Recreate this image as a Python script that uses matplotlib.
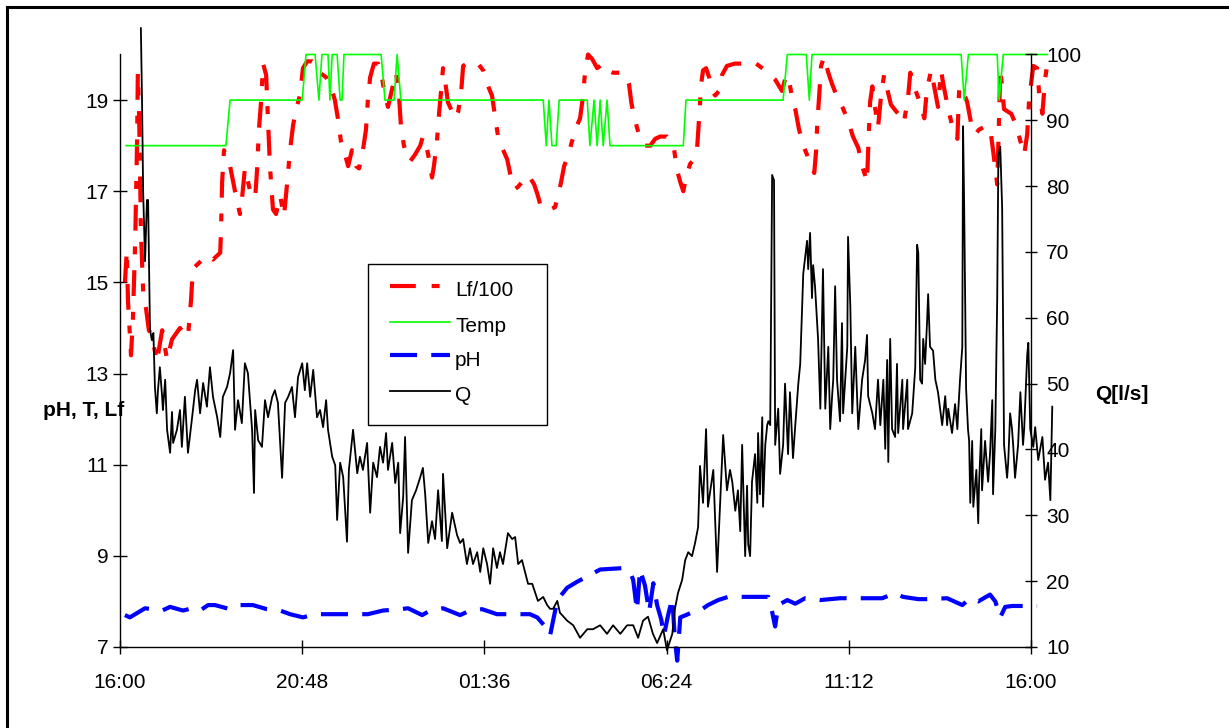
import matplotlib
matplotlib.use("Agg")
import matplotlib.pyplot as plt
from matplotlib.lines import Line2D
from matplotlib.patches import Rectangle

plt.rcParams['font.family'] = ['Liberation Sans', 'DejaVu Sans']

# ---- data (hours after 16:00) ----
x_tick_pos = [0, 4.8, 9.6, 14.4, 19.2, 24]
x_tick_labels = ['16:00', '20:48', '01:36', '06:24', '11:12', '16:00']
left_ticks = [7, 9, 11, 13, 15, 17, 19]
right_ticks = [10, 20, 30, 40, 50, 60, 70, 80, 90, 100]
legend_labels = ['Lf/100', 'Temp', 'pH', 'Q']

t_temp = [0.16, 2.79, 2.90, 4.80, 4.90, 5.14, 5.24, 5.32, 5.48, 5.53, 5.59, 5.72, 5.80, 5.85, 5.90,
          6.88, 6.98, 7.22, 7.30, 7.40, 11.15, 11.23, 11.30, 11.38, 11.49, 11.57, 12.31, 12.38,
          12.49, 12.57, 12.65, 12.73, 12.83, 12.91, 14.84, 14.91, 17.47, 17.58, 18.08, 18.16,
          18.23, 22.16, 22.24, 22.35, 23.11, 23.16, 23.27, 24.43]
temp = [18, 18, 19, 19, 20, 20, 19, 20, 20, 19, 20, 20, 19, 19, 20,
        20, 19, 19, 20, 19, 19, 18, 19, 18, 18, 19, 19, 18,
        19, 18, 19, 18, 19, 18, 18, 19, 19, 20, 20, 19,
        20, 20, 19, 20, 20, 19, 20, 20]

t_lf = [0.13, 0.18, 0.21, 0.29, 0.34, 0.40, 0.42, 0.45, 0.47, 0.50, 0.53, 0.55, 0.61, 0.69, 0.76,
        0.84, 0.97, 1.11, 1.24, 1.37, 1.58, 1.71, 1.79, 1.87, 1.92, 2.11, 2.29, 2.45, 2.64, 2.66,
        2.69, 2.74, 2.90, 3.03, 3.16, 3.21, 3.29, 3.43, 3.56, 3.61, 3.66, 3.72, 3.77, 3.85, 3.90,
        3.95, 4.03, 4.11, 4.22, 4.32, 4.40, 4.48, 4.56, 4.64, 4.74, 4.82, 4.93, 5.06, 5.16, 5.27,
        5.43, 5.56, 5.66, 5.74, 5.82, 5.93, 6.01, 6.11, 6.22, 6.30, 6.40, 6.48, 6.53, 6.59, 6.69,
        6.80, 6.88, 6.98, 7.06, 7.17, 7.27, 7.35, 7.40, 7.48, 7.56, 7.64, 7.77, 7.91, 7.98, 8.04,
        8.12, 8.22, 8.27, 8.35, 8.41, 8.46, 8.51, 8.56, 8.64, 8.75, 8.83, 8.91, 8.99, 9.04, 9.22,
        9.43, 9.57, 9.70, 9.80, 9.88, 9.96, 10.07, 10.20, 10.30, 10.41, 10.49, 10.59, 10.70, 10.80,
        10.91, 11.01, 11.09, 11.20, 11.33, 11.46, 11.54, 11.62, 11.70, 11.81, 11.91, 12.02, 12.12,
        12.20, 12.25, 12.33, 12.44, 12.57, 12.73, 12.86, 12.99, 13.18, 13.33, 13.41, 13.47, 13.54,
        13.62, 13.70, 13.83, 13.97, 14.10, 14.23, 14.41, 14.52, 14.60, 14.68, 14.76, 14.84, 14.91,
        15.02, 15.12, 15.20, 15.26, 15.31, 15.36, 15.44, 15.52, 15.60, 15.68, 15.78, 15.86, 15.99,
        16.20, 16.39, 16.60, 16.76, 16.92, 17.08, 17.26, 17.44, 17.55, 17.63, 17.71, 17.79, 17.89,
        18.00, 18.10, 18.21, 18.29, 18.34, 18.37, 18.42, 18.47, 18.55, 18.66, 18.76, 18.90, 19.03,
        19.18, 19.31, 19.45, 19.55, 19.63, 19.68, 19.71, 19.76, 19.82, 19.87, 19.97, 20.05, 20.13,
        20.21, 20.31, 20.45, 20.55, 20.65, 20.76, 20.82, 20.92, 21.05, 21.19, 21.26, 21.37, 21.47,
        21.55, 21.63, 21.69, 21.82, 21.92, 22.06, 22.11, 22.21, 22.32, 22.42, 22.53, 22.63, 22.74,
        22.92, 23.00, 23.06, 23.11, 23.16, 23.19, 23.29, 23.48, 23.61, 23.72, 23.82, 23.90, 23.95,
        24.06, 24.16, 24.22, 24.30, 24.37, 24.43]
lf = [15.0, 15.7, 14.6, 13.4, 14.2, 15.9, 16.8, 18.1, 19.6, 18.8, 17.35, 16.15, 14.8, 14.4, 13.95,
      13.85, 13.25, 13.95, 13.3, 13.75, 14.0, 13.85, 13.8, 14.6, 15.3, 15.45, 15.6, 15.5, 15.65, 16.1,
      17.2, 17.9, 17.55, 17.0, 16.5, 16.8, 17.5, 17.0, 16.85, 17.45, 18.35, 19.0, 19.8, 19.55, 18.55,
      17.55, 16.6, 16.5, 16.9, 16.45, 17.15, 17.9, 18.45, 18.8, 19.1, 19.7, 19.85, 19.85, 19.8, 19.6,
      19.5, 19.3, 19.0, 18.6, 18.1, 17.8, 17.55, 17.9, 17.55, 17.5, 17.9, 18.35, 19.0, 19.5, 19.8,
      19.8, 19.6, 19.1, 18.85, 19.25, 19.6, 19.1, 18.45, 18.0, 17.8, 17.65, 17.8, 18.0, 18.2, 18.1,
      17.8, 17.3, 17.55, 18.1, 18.75, 19.2, 19.7, 19.45, 18.95, 18.75, 18.6, 18.75, 19.2, 19.75, 19.85,
      19.8, 19.65, 19.3, 19.1, 18.65, 18.2, 17.95, 17.7, 17.3, 17.05, 17.1, 17.2, 17.35, 17.3,
      17.15, 16.9, 16.65, 16.6, 16.6, 16.65, 16.9, 17.2, 17.55, 17.8, 18.1, 18.4, 18.6,
      19.1, 19.6, 20.0, 19.9, 19.7, 19.8, 19.65, 19.6, 19.6, 19.55, 19.35, 18.95, 18.65,
      18.4, 18.15, 18.0, 18.0, 18.15, 18.2, 18.2, 18.1, 17.9, 17.45, 17.2, 17.0, 17.3,
      17.6, 17.7, 17.9, 18.65, 19.35, 19.65, 19.7, 19.5, 19.2, 19.1, 19.2, 19.55, 19.75,
      19.8, 19.8, 19.85, 19.8, 19.7, 19.6, 19.45, 19.2, 19.55, 19.4, 19.05, 18.8, 18.35,
      18.0, 17.8, 17.55, 17.4, 17.9, 18.5, 19.1, 19.75, 19.95, 19.6, 19.35, 19.05, 18.85,
      18.55, 18.2, 17.95, 17.55, 17.35, 17.2, 17.9, 18.95, 19.3, 18.95, 18.4, 19.1, 19.55,
      19.25, 18.9, 18.75, 18.65, 18.5, 19.05, 19.6, 19.3, 19.0, 18.6, 19.25, 19.65, 19.2,
      18.85, 19.65, 19.35, 18.8, 18.45, 18.15, 19.3, 19.2, 18.95, 18.5, 18.25, 18.35, 18.4,
      18.4, 17.9, 17.5, 17.15, 18.65, 19.7, 18.8, 18.7, 18.45, 18.1, 17.8, 18.25, 19.0,
      19.75, 19.7, 19.1, 18.7, 19.45, 19.8]

t_ph = [0.13, 0.26, 0.40, 0.66, 1.11, 1.32, 1.66, 1.90, 2.11, 2.32, 2.50, 2.90, 3.16, 3.50, 3.87,
        4.22, 4.48, 4.82, 5.14, 5.48, 5.93, 6.53, 6.93, 7.38, 7.59, 7.96, 8.17, 8.51, 8.96, 9.22,
        9.54, 9.93, 10.54, 10.80, 10.99, 11.20, 11.33, 11.52, 11.78, 12.04, 12.31, 12.65, 13.23,
        13.44, 13.52, 13.62, 13.70, 13.83, 13.94, 14.05, 14.15, 14.26, 14.33, 14.44, 14.55, 14.62,
        14.68, 14.76, 14.91, 15.10, 15.28, 15.49, 15.76, 16.02, 16.47, 17.08, 17.18, 17.26, 17.34,
        17.58, 17.79, 18.05, 18.45, 18.97, 19.37, 20.08, 20.42, 20.63, 21.03, 21.26, 21.79, 22.19,
        22.40, 22.61, 22.92, 23.06, 23.19, 23.32, 23.50, 24.16]
ph = [7.7, 7.65, 7.72, 7.85, 7.8, 7.88, 7.8, 7.85, 7.8, 7.92, 7.92, 7.83, 7.92, 7.92, 7.83,
      7.8, 7.72, 7.65, 7.72, 7.72, 7.72, 7.72, 7.8, 7.83, 7.85, 7.7, 7.8, 7.85, 7.7, 7.8,
      7.83, 7.72, 7.72, 7.72, 7.65, 7.45, 7.25, 8.03, 8.3, 8.43, 8.55, 8.7, 8.73,
      8.65, 8.47, 7.8, 8.7, 8.35, 7.77, 8.4, 7.92, 7.6, 7.25, 7.7, 8.07, 7.15,
      6.7, 7.65, 7.7, 7.77, 7.8, 7.92, 8.03, 8.1, 8.1, 8.1, 7.77, 7.45, 7.92,
      8.03, 7.95, 8.07, 8.03, 8.07, 8.07, 8.07, 8.18, 8.1, 8.05, 8.05, 8.07, 7.92,
      8.07, 8.0, 8.15, 8.0, 7.65, 7.88, 7.9, 7.9]

t_q = [0.55, 0.58, 0.61, 0.66, 0.71, 0.74, 0.76, 0.79, 0.84, 0.88, 0.92, 0.97, 1.00, 1.05, 1.11,
       1.13, 1.19, 1.24, 1.32, 1.37, 1.40, 1.50, 1.58, 1.63, 1.71, 1.79, 1.90, 1.98, 2.03, 2.11,
       2.19, 2.29, 2.37, 2.45, 2.56, 2.64, 2.71, 2.82, 2.90, 2.98, 3.03, 3.11, 3.21, 3.29, 3.37,
       3.48, 3.53, 3.56, 3.64, 3.74, 3.82, 3.90, 4.01, 4.08, 4.16, 4.27, 4.35, 4.43, 4.53, 4.61,
       4.69, 4.80, 4.87, 4.93, 5.01, 5.09, 5.19, 5.27, 5.35, 5.43, 5.48, 5.59, 5.67, 5.72, 5.80,
       5.88, 5.98, 6.03, 6.14, 6.25, 6.32, 6.40, 6.51, 6.59, 6.67, 6.77, 6.85, 6.93, 7.01, 7.06,
       7.17, 7.25, 7.33, 7.38, 7.46, 7.51, 7.59, 7.69, 7.80, 7.91, 7.98, 8.04, 8.12, 8.22, 8.30,
       8.38, 8.48, 8.51, 8.62, 8.75, 8.88, 8.96, 9.04, 9.14, 9.22, 9.30, 9.41, 9.49, 9.57, 9.67,
       9.75, 9.83, 9.93, 10.01, 10.09, 10.22, 10.33, 10.41, 10.49, 10.59, 10.67, 10.75, 10.86,
       10.94, 11.01, 11.15, 11.25, 11.33, 11.41, 11.52, 11.59, 11.78, 11.94, 12.12, 12.31, 12.46,
       12.65, 12.83, 12.99, 13.18, 13.36, 13.52, 13.65, 13.78, 13.91, 14.04, 14.15, 14.31, 14.41,
       14.55, 14.62, 14.70, 14.81, 14.89, 14.97, 15.07, 15.15, 15.23, 15.28, 15.36, 15.44, 15.49,
       15.63, 15.73, 15.81, 15.89, 15.99, 16.07, 16.13, 16.21, 16.28, 16.34, 16.39, 16.47, 16.52,
       16.55, 16.60, 16.65, 16.73, 16.79, 16.81, 16.86, 16.92, 16.94, 17.00, 17.05, 17.08, 17.13,
       17.18, 17.23, 17.26, 17.34, 17.39, 17.47, 17.52, 17.60, 17.65, 17.73, 17.79, 17.87, 17.92,
       18.00, 18.10, 18.13, 18.18, 18.23, 18.26, 18.31, 18.39, 18.45, 18.52, 18.58, 18.66, 18.71,
       18.76, 18.79, 18.84, 18.89, 18.97, 19.02, 19.05, 19.16, 19.18, 19.24, 19.29, 19.37, 19.45,
       19.55, 19.63, 19.68, 19.71, 19.82, 19.89, 19.97, 20.03, 20.11, 20.16, 20.21, 20.24, 20.29,
       20.34, 20.42, 20.47, 20.50, 20.61, 20.63, 20.74, 20.76, 20.87, 20.95, 21.00, 21.03, 21.08,
       21.13, 21.16, 21.21, 21.26, 21.29, 21.34, 21.42, 21.48, 21.55, 21.66, 21.74, 21.79, 21.82,
       21.92, 22.00, 22.06, 22.08, 22.13, 22.19, 22.21, 22.24, 22.29, 22.34, 22.37, 22.40, 22.45,
       22.48, 22.56, 22.61, 22.63, 22.69, 22.71, 22.79, 22.87, 22.92, 22.98, 23.00, 23.06, 23.11,
       23.14, 23.19, 23.24, 23.29, 23.37, 23.40, 23.45, 23.50, 23.53, 23.58, 23.66, 23.72, 23.79,
       23.82, 23.90, 23.93, 23.98, 24.06, 24.11, 24.19, 24.30, 24.37, 24.45, 24.51, 24.56]
q = [104.0, 93.1, 79.1, 68.6, 77.9, 77.9, 70.3, 58.2, 56.6, 57.7, 49.5, 45.5, 49.0, 52.5, 48.0,
     46.0, 50.6, 43.0, 39.5, 45.7, 41.0, 43.0, 46.0, 40.4, 48.0, 39.5, 44.9, 49.0, 50.6, 45.5,
     50.1, 46.5, 52.5, 48.0, 44.9, 41.9, 48.0, 49.5, 51.6, 55.1, 43.0, 47.5, 44.0, 53.1, 51.6,
     43.0, 33.4, 46.0, 41.4, 40.4, 47.5, 44.9, 48.0, 49.0, 47.1, 35.7, 47.1, 48.0, 49.5, 44.9,
     51.0, 53.1, 49.0, 53.1, 48.0, 52.1, 44.9, 46.0, 43.4, 47.5, 43.0, 38.9, 37.6, 29.3, 38.0,
     35.8, 26.0, 36.9, 43.0, 36.4, 38.9, 36.9, 41.0, 30.4, 38.0, 35.8, 40.4, 38.0, 42.5, 36.9,
     41.0, 34.9, 38.0, 27.3, 32.8, 41.9, 24.3, 32.3, 33.8, 35.8, 37.2, 33.2, 25.8, 29.1, 26.4,
     33.8, 26.1, 36.3, 25.0, 30.4, 27.0, 25.8, 26.4, 22.6, 25.0, 22.6, 24.4, 21.4, 25.0, 22.6,
     19.6, 25.0, 22.0, 24.4, 22.6, 27.3, 26.4, 26.7, 22.6, 23.2, 21.4, 19.6, 19.6,
     18.2, 17.0, 17.6, 16.4, 15.8, 15.8, 17.0, 15.2, 14.0, 13.3, 11.4, 12.7, 12.7,
     13.3, 12.0, 13.3, 12.0, 13.3, 13.3, 11.4, 14.0, 14.6, 12.0, 10.6, 12.7, 9.5,
     12.0, 15.8, 18.2, 20.2, 23.2, 24.4, 23.8, 25.8, 28.2, 37.5, 31.9, 43.1, 31.3,
     36.9, 21.4, 31.9, 42.2, 33.8, 36.9, 35.1, 30.7, 33.8, 27.6, 40.7, 23.8, 34.5,
     25.6, 23.8, 35.1, 39.3, 31.9, 42.5, 33.2, 44.9, 31.3, 40.7, 43.7, 44.3, 43.7,
     81.7, 80.9, 40.7, 46.2, 36.3, 40.7, 50.0, 39.3, 48.7, 38.7, 43.7, 50.0, 53.0,
     66.7, 71.7, 67.4, 72.9, 63.0, 68.0, 64.8, 56.8, 46.2, 67.4, 46.2, 55.6, 43.1,
     48.1, 50.6, 64.8, 50.6, 44.3, 59.2, 45.5, 55.6, 72.3, 61.8, 45.5, 55.6, 43.1,
     50.6, 53.6, 57.4, 48.1, 45.5, 43.1, 50.6, 43.7, 50.6, 40.1, 53.6, 38.1, 56.8,
     43.1, 41.9, 53.0, 42.5, 50.6, 43.1, 50.6, 43.1, 45.5, 52.4, 71.1, 69.9, 50.6,
     50.0, 56.8, 53.0, 59.2, 63.6, 55.6, 55.0, 50.6, 48.7, 43.7, 48.1, 43.7, 46.2,
     42.5, 46.9, 43.1, 45.5, 50.6, 55.6, 89.1, 76.7, 49.3, 43.1, 41.3, 31.9, 41.3,
     31.3, 36.9, 28.8, 34.5, 43.1, 33.8, 41.3, 35.1, 39.3, 47.5, 33.2, 43.1, 63.0,
     84.7, 86.0, 76.7, 40.7, 35.7, 38.1, 45.5, 43.1, 40.7, 35.7, 40.7, 48.7, 40.7,
     43.1, 54.4, 56.2, 43.1, 40.4, 43.4, 38.4, 41.9, 35.4, 38.0, 32.3, 46.5]

# ---- figure ----
W, H = 1229, 728
fig = plt.figure(figsize=(W / 100, H / 100), dpi=100)
ax = fig.add_axes([120 / W, 1 - 647 / H, (1031 - 120) / W, (647 - 54.5) / H])
ax2 = ax.twinx()

lf_style = dict(color='#FF0000', lw=3.0, dashes=(6.2, 3.8, 1.9, 3.8))
temp_style = dict(color='#00FF00', lw=1.2)
ph_style = dict(color='#0000FF', lw=3.0, dashes=(6.5, 3.4))
q_style = dict(color='black', lw=1.3)

ax.plot(t_lf, lf, clip_on=False, **lf_style)
ax.plot(t_temp, temp, clip_on=False, **temp_style)
ax.plot(t_ph, ph, clip_on=False, **ph_style)
ax2.plot(t_q, q, clip_on=False, **q_style)

ax.set_xlim(0, 24)
ax.set_ylim(7, 20)
ax2.set_ylim(10, 100)
ax.set_xticks(x_tick_pos)
ax.set_xticklabels(x_tick_labels)
ax.set_yticks(left_ticks)
ax2.set_yticks(right_ticks)

for s in ['top', 'right']:
    ax.spines[s].set_visible(False)
for s in ['top', 'left', 'bottom']:
    ax2.spines[s].set_visible(False)
for a in (ax, ax2):
    for s in a.spines.values():
        s.set_linewidth(1.0)
        s.set_color('black')

ax.tick_params(axis='y', direction='inout', length=9.5, width=1, labelsize=15, pad=3.5)
ax.tick_params(axis='x', direction='inout', length=10, width=1, labelsize=15, pad=14)
ax2.tick_params(axis='y', direction='inout', length=9, width=1, labelsize=15, pad=6.5)

fig.text(43 / W, 1 - 410 / H, 'pH, T, Lf', fontsize=15, fontweight='bold', ha='left', va='center')
fig.text(1095 / W, 1 - 395 / H, 'Q[l/s]', fontsize=15, fontweight='bold', ha='left', va='center')

# ---- legend box (drawn on top of the plot) ----
tf = fig.transFigure
fig.add_artist(Rectangle((368 / W, 1 - 425 / H), 179 / W, 161 / H, transform=tf,
                         facecolor='white', edgecolor='black', lw=1.0, zorder=5))
row_y = [286, 322, 355, 391]
styles = [lf_style, temp_style, ph_style, q_style]
for lab, ry, st in zip(legend_labels, row_y, styles):
    fig.add_artist(Line2D([390 / W, 450 / W], [1 - ry / H, 1 - ry / H], transform=tf,
                          zorder=6, **st))
    fig.text(455 / W, 1 - (ry + 5) / H, lab, fontsize=15, ha='left', va='center', zorder=6)

# outer chart frame
fig.add_artist(Line2D([7 / W, 7 / W], [0, 1 - 7 / H], transform=tf, color='black', lw=2.2))
fig.add_artist(Line2D([7 / W, 1], [1 - 7 / H, 1 - 7 / H], transform=tf, color='black', lw=2.2))

fig.savefig('out.png', dpi=100)
